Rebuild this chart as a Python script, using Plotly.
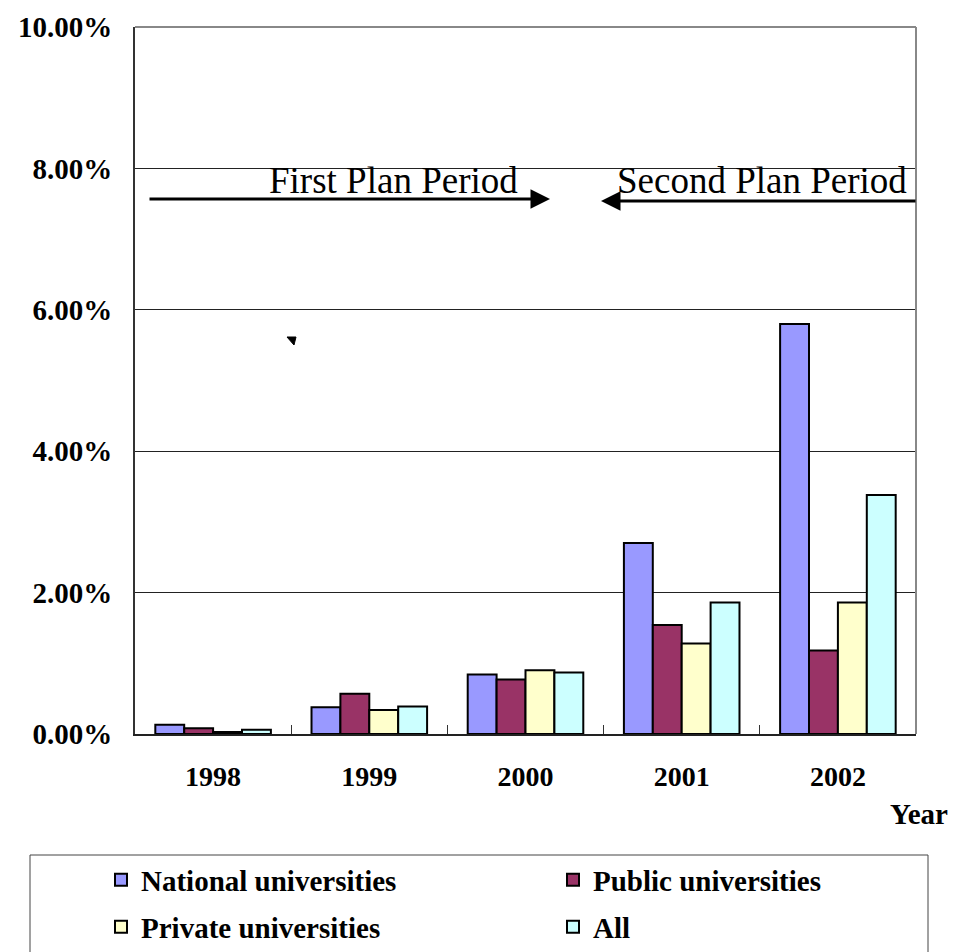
import plotly.graph_objects as go

years = ["1998", "1999", "2000", "2001", "2002"]
national = [0.0013, 0.0038, 0.0084, 0.0270, 0.0580]
public = [0.0008, 0.0057, 0.0077, 0.0154, 0.0118]
private = [0.0003, 0.0034, 0.0090, 0.0128, 0.0186]
all_univ = [0.0006, 0.0039, 0.0087, 0.0186, 0.0338]

FONT = "Liberation Serif, Times New Roman, serif"

W, H = 953, 952
L, R, T, B = 135, 37, 27, 218
pw, ph = W - L - R, H - T - B


def px(x):
    return (x - L) / pw


def py(y):
    return (H - B - y) / ph


# name, values, fill colour, legend id, legend slot (left x, centre y in pixels)
series = [
    ("National universities", national, "#9999FF", "legend", (101, 880)),
    ("Public universities", public, "#993366", "legend2", (553, 880)),
    ("Private universities", private, "#FFFFCC", "legend3", (101, 927)),
    ("All", all_univ, "#CCFFFF", "legend4", (553, 927)),
]

fig = go.Figure()
legend_layout = {}
for name, vals, color, lg, (lx, ly) in series:
    fig.add_trace(go.Bar(
        x=years, y=vals, name=f"<b>{name}</b>", legend=lg,
        marker=dict(color=color, line=dict(color="black", width=2)),
    ))
    legend_layout[lg] = dict(
        orientation="h", x=px(lx), xanchor="left", y=py(ly), yanchor="middle",
        font=dict(size=29, family=FONT, color="black"),
        bgcolor="rgba(0,0,0,0)", borderwidth=0,
    )

fig.update_layout(
    width=W, height=H,
    margin=dict(l=L, r=R, t=T, b=B, autoexpand=False),
    paper_bgcolor="white", plot_bgcolor="white",
    bargap=0.26, bargroupgap=0,
    font=dict(family=FONT, color="black"),
    xaxis=dict(
        type="category", showline=True, linecolor="#222", linewidth=2,
        ticks="inside", tickson="boundaries", ticklen=9, tickcolor="#333", tickwidth=1,
        tickfont=dict(size=28, family=FONT, weight="bold"),
        ticklabelstandoff=16, showgrid=False,
    ),
    yaxis=dict(
        range=[0, 0.10], dtick=0.02, tickformat=".2%",
        showline=True, linecolor="#333", linewidth=2,
        showgrid=True, gridcolor="#222", gridwidth=1,
        tickfont=dict(size=29, family=FONT, weight="bold"),
        ticks="", ticklabelstandoff=15, zeroline=False,
    ),
    showlegend=True,
    **legend_layout,
)

shapes = [
    # gray frame on top and right of the plot area
    dict(type="line", xref="paper", yref="paper", x0=0, x1=1, y0=1, y1=1,
         line=dict(color="#888", width=2)),
    dict(type="line", xref="paper", yref="paper", x0=1, x1=1, y0=0, y1=1,
         line=dict(color="#888", width=2)),
    # legend frame
    dict(type="rect", xref="paper", yref="paper", x0=px(30), x1=px(928),
         y0=py(855), y1=py(975), line=dict(color="#444", width=1)),
    # small stray arrow tip
    dict(type="path", xref="paper", yref="paper",
         path=f"M{px(287)},{py(337)} L{px(296)},{py(337)} L{px(294)},{py(345)} Z",
         fillcolor="black", line=dict(color="black", width=1)),
]
fig.update_layout(shapes=shapes)

annotations = [
    dict(text="First Plan Period", xref="paper", yref="paper",
         x=px(393), y=py(181), xanchor="center", yanchor="middle", showarrow=False,
         font=dict(size=37, family=FONT)),
    dict(text="Second Plan Period", xref="paper", yref="paper",
         x=px(762), y=py(181), xanchor="center", yanchor="middle", showarrow=False,
         font=dict(size=37, family=FONT)),
    dict(text="", xref="paper", yref="paper", x=px(550), y=py(199),
         ax=-402, ay=0, showarrow=True, arrowhead=2, arrowsize=1.3,
         arrowwidth=3, arrowcolor="black"),
    dict(text="", xref="paper", yref="paper", x=px(601), y=py(201),
         ax=316, ay=0, showarrow=True, arrowhead=2, arrowsize=1.3,
         arrowwidth=3, arrowcolor="black"),
    dict(text="<b>Year</b>", xref="paper", yref="paper", x=px(919), y=py(814),
         xanchor="center", yanchor="middle",
         showarrow=False, font=dict(size=29, family=FONT)),
]
fig.update_layout(annotations=annotations)

fig.write_html("out.html")
